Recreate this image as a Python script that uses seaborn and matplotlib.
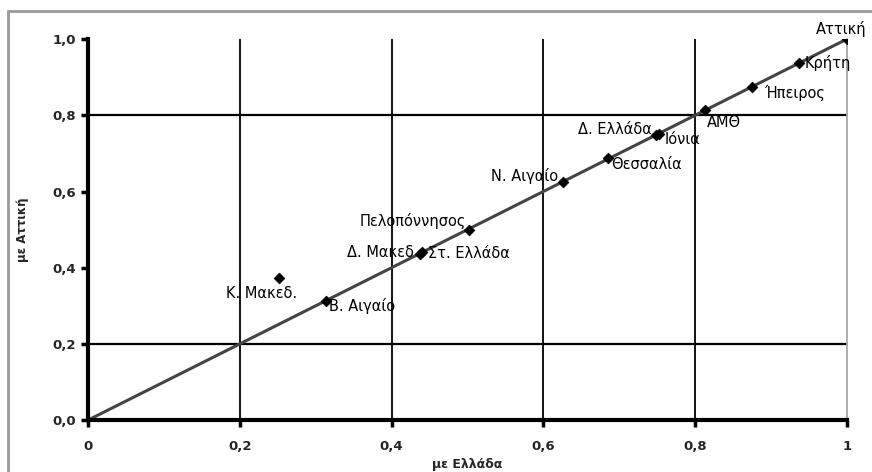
import matplotlib
matplotlib.use('Agg')
import matplotlib.pyplot as plt
import seaborn as sns
import pandas as pd
from matplotlib.ticker import FuncFormatter
from matplotlib.patches import Rectangle

# Regions: share vs Greece (x) and vs Attica (y)
regions = ['Αττική', 'Κρήτη', 'Ήπειρος', 'ΑΜΘ', 'Δ. Ελλάδα', 'Ιόνια', 'Θεσσαλία',
           'Ν. Αιγαίο', 'Πελοπόννησος', 'Δ. Μακεδ', 'Στ. Ελλάδα', 'Β. Αιγαίο', 'Κ. Μακεδ.']
x_greece = [1.0, 0.937, 0.875, 0.813, 0.748, 0.752, 0.686, 0.626, 0.502, 0.437, 0.440, 0.313, 0.252]
y_attica = [1.0, 0.937, 0.875, 0.813, 0.748, 0.752, 0.687, 0.625, 0.500, 0.437, 0.440, 0.312, 0.373]
trend_x = [0.0, 1.0]
trend_y = [0.0, 1.0]

df = pd.DataFrame({'region': regions, 'x': x_greece, 'y': y_attica})

sns.set_theme(style='white')
plt.rcParams['font.family'] = ['DejaVu Sans']

fig = plt.figure(figsize=(8.72, 4.72), dpi=100)
ax = fig.add_axes([0.101, 0.110, 0.870, 0.807])

# outer frame like the spreadsheet chart area
fig.patches.append(Rectangle((8 / 872, -0.1), 1.2, 1 - 11 / 472 + 0.1, transform=fig.transFigure,
                             fill=False, edgecolor='#9a9a9a', linewidth=2, zorder=0))

# quadrant / grid lines
for v in [0.2, 0.4, 0.6, 0.8]:
    ax.axvline(v, color='black', linewidth=1.3, zorder=1)
for h in [0.2, 0.8]:
    ax.axhline(h, color='black', linewidth=1.6, zorder=1)

sns.lineplot(x=trend_x, y=trend_y, ax=ax, color='#444444', linewidth=2.2, zorder=2)
sns.scatterplot(data=df, x='x', y='y', ax=ax, marker='D', color='black', s=30,
                edgecolor='black', linewidth=0.5, zorder=3)

# label offsets in pixels (dx, dy, ha, va)
offsets = {
    'Αττική': (-6, 10, 'center', 'center'),
    'Κρήτη': (6, 0, 'left', 'center'),
    'Ήπειρος': (12, -6, 'left', 'center'),
    'ΑΜΘ': (2, -12, 'left', 'center'),
    'Δ. Ελλάδα': (-4, 6, 'right', 'center'),
    'Ιόνια': (6, -6, 'left', 'center'),
    'Θεσσαλία': (3, -6, 'left', 'center'),
    'Ν. Αιγαίο': (-5, 6, 'right', 'center'),
    'Πελοπόννησος': (-3, 9, 'right', 'center'),
    'Δ. Μακεδ': (-6, 1, 'right', 'center'),
    'Στ. Ελλάδα': (6, -1, 'left', 'center'),
    'Β. Αιγαίο': (3, -5, 'left', 'center'),
    'Κ. Μακεδ.': (-18, -15, 'center', 'center'),
}
for r, xv, yv in zip(regions, x_greece, y_attica):
    dx, dy, ha, va = offsets[r]
    ax.annotate(r, (xv, yv), xytext=(dx, dy), textcoords='offset pixels',
                ha=ha, va=va, fontsize=10.5, color='black', zorder=4)

ax.set_xlim(0, 1)
ax.set_ylim(0, 1)
ax.set_xticks([0, 0.2, 0.4, 0.6, 0.8, 1.0])
ax.set_yticks([0, 0.2, 0.4, 0.6, 0.8, 1.0])
ax.xaxis.set_major_formatter(FuncFormatter(lambda v, p: '0' if v == 0 else ('1' if v == 1 else f'{v:.1f}'.replace('.', ','))))
ax.yaxis.set_major_formatter(FuncFormatter(lambda v, p: f'{v:.1f}'.replace('.', ',')))
ax.tick_params(axis='both', which='both', direction='out', length=5, width=2.5,
               color='black', labelsize=9.5, bottom=True, left=True)
ax.tick_params(axis='x', pad=9)
ax.tick_params(axis='y', pad=4)
for lbl in ax.get_xticklabels() + ax.get_yticklabels():
    lbl.set_fontweight('bold')

ax.spines['left'].set_color('black')
ax.spines['left'].set_linewidth(3)
ax.spines['bottom'].set_color('black')
ax.spines['bottom'].set_linewidth(3)
ax.spines['right'].set_color('#a0a0a0')
ax.spines['right'].set_linewidth(1.2)
ax.spines['top'].set_visible(False)

ax.set_xlabel('με Ελλάδα', fontsize=9, fontweight='bold', labelpad=0)
ax.set_ylabel('με Αττική', fontsize=8.5, fontweight='bold', labelpad=6)
ax.xaxis.set_label_coords(0.5, -0.1)
ax.yaxis.set_label_coords(-0.078, 0.5)

fig.savefig('out.png', dpi=100)
plt.close(fig)
